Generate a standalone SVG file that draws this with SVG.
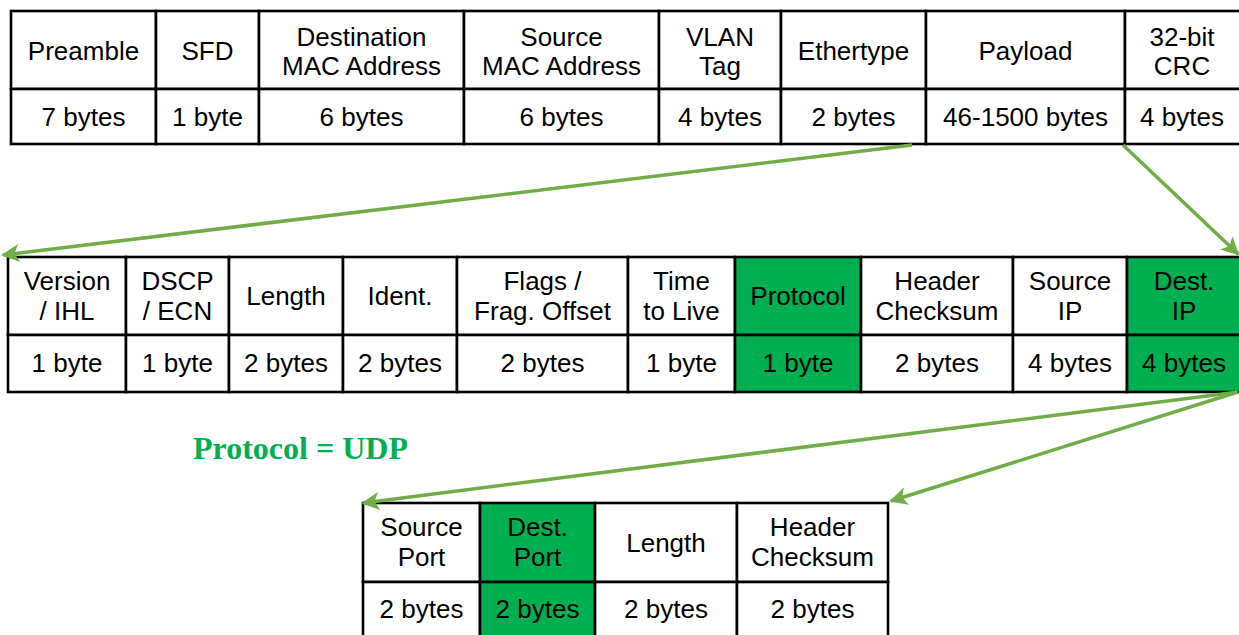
<svg xmlns="http://www.w3.org/2000/svg" width="1239" height="635" viewBox="0 0 1239 635">
<style>
  .cell{fill:#ffffff;stroke:#000000;stroke-width:2.6}
  .hl{fill:#00B050;stroke:#000000;stroke-width:2.6}
  .t{font-family:"Liberation Sans",Arial,sans-serif;font-size:26px;fill:#000000;text-anchor:middle}
  .conn{stroke:#70AD47;stroke-width:3.5;fill:none;marker-end:url(#ah)}
  .lbl{font-family:"Liberation Serif","Times New Roman",serif;font-size:32px;font-weight:bold;fill:#00B050}
</style>
<defs>
  <marker id="ah" viewBox="0 0 10 10" refX="9" refY="5" markerWidth="21" markerHeight="18" markerUnits="userSpaceOnUse" orient="auto">
    <path d="M0,0 L10,5 L0,10 L2.5,5 z" fill="#70AD47"/>
  </marker>
</defs>
<rect width="1239" height="635" fill="#ffffff"/>

<g id="ethernet-frame">
  <g id="eth-preamble"><rect class="cell" x="11" y="11" width="145" height="78"/><rect class="cell" x="11" y="89" width="145" height="55"/><text class="t" x="83.5" y="60">Preamble</text><text class="t" x="83.5" y="126">7 bytes</text></g>
  <g id="eth-sfd"><rect class="cell" x="156" y="11" width="103" height="78"/><rect class="cell" x="156" y="89" width="103" height="55"/><text class="t" x="207.5" y="60">SFD</text><text class="t" x="207.5" y="126">1 byte</text></g>
  <g id="eth-dst"><rect class="cell" x="259" y="11" width="205" height="78"/><rect class="cell" x="259" y="89" width="205" height="55"/><text class="t" x="361.5" y="46">Destination</text><text class="t" x="361.5" y="75">MAC Address</text><text class="t" x="361.5" y="126">6 bytes</text></g>
  <g id="eth-src"><rect class="cell" x="464" y="11" width="195" height="78"/><rect class="cell" x="464" y="89" width="195" height="55"/><text class="t" x="561.5" y="46">Source</text><text class="t" x="561.5" y="75">MAC Address</text><text class="t" x="561.5" y="126">6 bytes</text></g>
  <g id="eth-vlan"><rect class="cell" x="659" y="11" width="122" height="78"/><rect class="cell" x="659" y="89" width="122" height="55"/><text class="t" x="720" y="46">VLAN</text><text class="t" x="720" y="75">Tag</text><text class="t" x="720" y="126">4 bytes</text></g>
  <g id="eth-type"><rect class="cell" x="781" y="11" width="145" height="78"/><rect class="cell" x="781" y="89" width="145" height="55"/><text class="t" x="853.5" y="60">Ethertype</text><text class="t" x="853.5" y="126">2 bytes</text></g>
  <g id="eth-payload"><rect class="cell" x="926" y="11" width="199" height="78"/><rect class="cell" x="926" y="89" width="199" height="55"/><text class="t" x="1025.5" y="60">Payload</text><text class="t" x="1025.5" y="126">46-1500 bytes</text></g>
  <g id="eth-crc"><rect class="cell" x="1125" y="11" width="116" height="78"/><rect class="cell" x="1125" y="89" width="116" height="55"/><text class="t" x="1182" y="46">32-bit</text><text class="t" x="1182" y="75">CRC</text><text class="t" x="1182" y="126">4 bytes</text></g>
</g>

<g id="ip-header">
  <g id="ip-ver"><rect class="cell" x="8" y="257" width="118" height="78"/><rect class="cell" x="8" y="335" width="118" height="57"/><text class="t" x="67" y="290">Version</text><text class="t" x="67" y="320">/ IHL</text><text class="t" x="67" y="372">1 byte</text></g>
  <g id="ip-dscp"><rect class="cell" x="126" y="257" width="103" height="78"/><rect class="cell" x="126" y="335" width="103" height="57"/><text class="t" x="177.5" y="290">DSCP</text><text class="t" x="177.5" y="320">/ ECN</text><text class="t" x="177.5" y="372">1 byte</text></g>
  <g id="ip-len"><rect class="cell" x="229" y="257" width="114" height="78"/><rect class="cell" x="229" y="335" width="114" height="57"/><text class="t" x="286" y="305">Length</text><text class="t" x="286" y="372">2 bytes</text></g>
  <g id="ip-ident"><rect class="cell" x="343" y="257" width="114" height="78"/><rect class="cell" x="343" y="335" width="114" height="57"/><text class="t" x="400" y="305">Ident.</text><text class="t" x="400" y="372">2 bytes</text></g>
  <g id="ip-flags"><rect class="cell" x="457" y="257" width="171" height="78"/><rect class="cell" x="457" y="335" width="171" height="57"/><text class="t" x="542.5" y="290">Flags /</text><text class="t" x="542.5" y="320">Frag. Offset</text><text class="t" x="542.5" y="372">2 bytes</text></g>
  <g id="ip-ttl"><rect class="cell" x="628" y="257" width="107" height="78"/><rect class="cell" x="628" y="335" width="107" height="57"/><text class="t" x="681.5" y="290">Time</text><text class="t" x="681.5" y="320">to Live</text><text class="t" x="681.5" y="372">1 byte</text></g>
  <g id="ip-proto"><rect class="hl" x="735" y="257" width="126" height="78"/><rect class="hl" x="735" y="335" width="126" height="57"/><text class="t" x="798" y="305">Protocol</text><text class="t" x="798" y="372">1 byte</text></g>
  <g id="ip-csum"><rect class="cell" x="861" y="257" width="152" height="78"/><rect class="cell" x="861" y="335" width="152" height="57"/><text class="t" x="937" y="290">Header</text><text class="t" x="937" y="320">Checksum</text><text class="t" x="937" y="372">2 bytes</text></g>
  <g id="ip-src"><rect class="cell" x="1013" y="257" width="114" height="78"/><rect class="cell" x="1013" y="335" width="114" height="57"/><text class="t" x="1070" y="290">Source</text><text class="t" x="1070" y="320">IP</text><text class="t" x="1070" y="372">4 bytes</text></g>
  <g id="ip-dst"><rect class="hl" x="1127" y="257" width="114" height="78"/><rect class="hl" x="1127" y="335" width="114" height="57"/><text class="t" x="1184" y="290">Dest.</text><text class="t" x="1184" y="320">IP</text><text class="t" x="1184" y="372">4 bytes</text></g>
</g>

<g id="udp-label"><text class="lbl" x="193" y="459">Protocol = UDP</text></g>

<g id="udp-header">
  <g id="udp-src"><rect class="cell" x="363" y="503" width="117" height="79"/><rect class="cell" x="363" y="582" width="117" height="58"/><text class="t" x="421.5" y="536">Source</text><text class="t" x="421.5" y="566">Port</text><text class="t" x="421.5" y="618">2 bytes</text></g>
  <g id="udp-dst"><rect class="hl" x="480" y="503" width="115" height="79"/><rect class="hl" x="480" y="582" width="115" height="58"/><text class="t" x="537.5" y="536">Dest.</text><text class="t" x="537.5" y="566">Port</text><text class="t" x="537.5" y="618">2 bytes</text></g>
  <g id="udp-len"><rect class="cell" x="595" y="503" width="142" height="79"/><rect class="cell" x="595" y="582" width="142" height="58"/><text class="t" x="666" y="552">Length</text><text class="t" x="666" y="618">2 bytes</text></g>
  <g id="udp-csum"><rect class="cell" x="737" y="503" width="151" height="79"/><rect class="cell" x="737" y="582" width="151" height="58"/><text class="t" x="812.5" y="536">Header</text><text class="t" x="812.5" y="566">Checksum</text><text class="t" x="812.5" y="618">2 bytes</text></g>
</g>

<g id="connectors">
  <line class="conn" x1="912" y1="145" x2="3" y2="255"/>
  <line class="conn" x1="1123" y1="145" x2="1238" y2="254"/>
  <line class="conn" x1="1238" y1="392" x2="363" y2="503"/>
  <line class="conn" x1="1238" y1="392" x2="891" y2="501"/>
</g>
</svg>
